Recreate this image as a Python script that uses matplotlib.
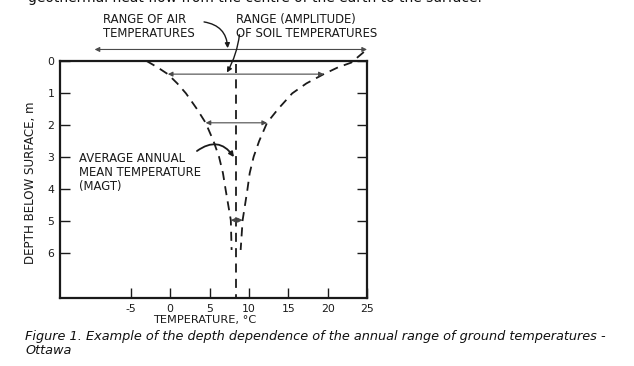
import numpy as np
import matplotlib
matplotlib.use("Agg")
from matplotlib import pyplot as plt

plt.rcParams["axes.unicode_minus"] = False

# curves: temperature (deg C) against depth (m)
left_depth = [0.0, 0.2, 0.41, 0.7, 1.01, 1.5, 1.93, 2.5, 2.99, 3.5, 4.03, 4.97, 5.9]
left_temp = [-3.0, -1.6, -0.3, 0.9, 2.0, 3.4, 4.5, 5.5, 6.2, 6.7, 7.05, 7.7, 7.8]
right_depth = [-0.28, 0.05, 0.2, 0.41, 0.7, 1.01, 1.5, 1.93, 2.5, 2.99, 3.5, 4.03, 4.97, 5.9]
right_temp = [24.6, 23.0, 21.3, 19.5, 17.3, 15.5, 13.7, 12.3, 11.3, 10.6, 10.1, 9.8, 9.2, 8.95]
magt = 8.3

# ranges (depth, low, high)
range_depth = [0.41, 1.93, 4.97]
range_low = [-0.3, 4.5, 7.7]
range_high = [19.5, 12.3, 9.2]
air_depth = -0.36
air_low, air_high = -9.6, 25.0

xticks = [-5, 0, 5, 10, 15, 20, 25]
yticks = [0, 1, 2, 3, 4, 5, 6]

ink = "#1a1a1a"
thin = "#4a4a4a"

fig = plt.figure(figsize=(6.34, 3.66), dpi=100)
ax = fig.add_axes([60/634, 68/366, 307/634, 237/366])

ax.plot(left_temp, left_depth, color=ink, lw=1.3, dashes=(5, 3.5))
ax.plot(right_temp, right_depth, color=ink, lw=1.3, dashes=(5, 3.5), clip_on=False)
ax.plot([magt, magt], [0.1, 7.4], color=ink, lw=1.3, dashes=(5, 3.5))

for d, lo, hi in zip(range_depth, range_low, range_high):
    ax.annotate("", xy=(lo, d), xytext=(hi, d),
                arrowprops=dict(arrowstyle="<|-|>", color=thin, lw=0.8,
                                mutation_scale=7, shrinkA=0, shrinkB=0))
ax.annotate("", xy=(air_low, air_depth), xytext=(air_high, air_depth),
            annotation_clip=False,
            arrowprops=dict(arrowstyle="<|-|>", color=thin, lw=0.8,
                            mutation_scale=7, shrinkA=0, shrinkB=0))

lab = dict(fontsize=8.4, color=ink, linespacing=1.1)
ax.text(-8.6, -1.5, "RANGE OF AIR\nTEMPERATURES", va="top", ha="left",
        clip_on=False, **lab)
ax.text(8.35, -1.5, "RANGE (AMPLITUDE)\nOF SOIL TEMPERATURES", va="top",
        ha="left", clip_on=False, **lab)
ax.text(-11.6, 2.84, "AVERAGE ANNUAL\nMEAN TEMPERATURE\n(MAGT)", va="top",
        ha="left", **lab)

ax.annotate("", xy=(7.3, -0.4), xytext=(4.3, -1.22), annotation_clip=False,
            arrowprops=dict(arrowstyle="-|>", color=ink, lw=1.0, mutation_scale=7,
                            shrinkA=0, shrinkB=0, connectionstyle="arc3,rad=-0.4"))
ax.annotate("", xy=(7.2, 0.36), xytext=(8.8, -0.82), annotation_clip=False,
            arrowprops=dict(arrowstyle="-|>", color=ink, lw=1.0, mutation_scale=7,
                            shrinkA=0, shrinkB=0, connectionstyle="arc3,rad=-0.1"))
ax.annotate("", xy=(8.1, 3.0), xytext=(3.4, 2.81),
            arrowprops=dict(arrowstyle="-|>", color=ink, lw=1.3, mutation_scale=7,
                            shrinkA=0, shrinkB=0, connectionstyle="arc3,rad=-0.5"))

ax.set_xlim(-14, 25)
ax.set_ylim(7.4, 0)
ax.set_xticks(xticks)
ax.set_yticks(yticks)
ax.tick_params(direction="in", length=7, width=1, colors=ink, labelsize=7.8,
               right=True, pad=4)
for s in ax.spines.values():
    s.set_linewidth(1.6)
    s.set_color(ink)

ax.set_xlabel("TEMPERATURE, °C", fontsize=8.2, color=ink)
ax.xaxis.set_label_coords(0.47, -0.07)
ax.set_ylabel("DEPTH BELOW SURFACE, m", fontsize=8.6, color=ink)
ax.yaxis.set_label_coords(-0.075, 0.485)

fig.text(25/634, 1 - 330/366, "Figure 1. Example of the depth dependence of the annual range of ground temperatures -\nOttawa",
         fontsize=9.3, style="italic", color="#111111", va="top", ha="left",
         linespacing=1.1)
fig.text(28/634, 1 - 2/366, "geothermal heat flow from the centre of the earth to the surface.",
         fontsize=10, color="#111111", va="baseline", ha="left")

fig.savefig("out.png", dpi=100)
